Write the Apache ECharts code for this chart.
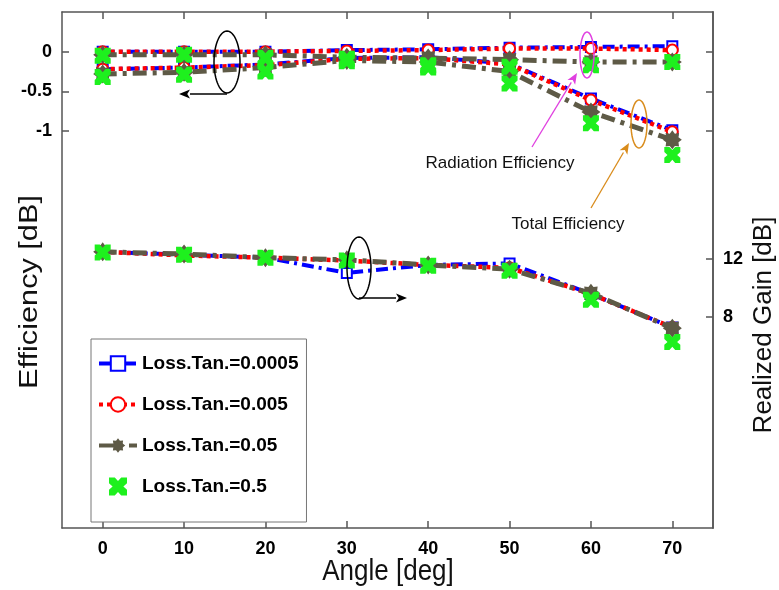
<!DOCTYPE html>
<html>
<head>
<meta charset="utf-8">
<script src="https://cdn.jsdelivr.net/npm/echarts@6/dist/echarts.min.js"></script>
<style>
  html, body { margin: 0; padding: 0; background: #fff; }
  #chart { width: 779px; height: 590px; }
</style>
</head>
<body>
<div id="chart"></div>
<script>
const angles = [0, 10, 20, 30, 40, 50, 60, 70]
const xTicks = [0, 10, 20, 30, 40, 50, 60, 70]
const effTicks = [-1, -0.5, 0]
const gainTicks = [8, 12]
const lossTans = ['Loss.Tan.=0.0005', 'Loss.Tan.=0.005', 'Loss.Tan.=0.05', 'Loss.Tan.=0.5']

// radiation efficiency [dB] (left axis)
const radEff0005 = [0.0, 0.0, 0.0, 0.02, 0.03, 0.05, 0.06, 0.07]
const radEff005 = [0.0, 0.0, 0.0, 0.01, 0.02, 0.04, 0.04, 0.02]
const radEff05 = [-0.04, -0.04, -0.04, -0.07, -0.08, -0.1, -0.13, -0.13]
const radEff5 = [-0.05, -0.04, -0.08, -0.09, -0.17, -0.19, -0.17, -0.13]
// total efficiency [dB] (left axis)
const totEff0005 = [-0.22, -0.2, -0.16, -0.08, -0.07, -0.15, -0.59, -0.99]
const totEff005 = [-0.22, -0.2, -0.17, -0.09, -0.08, -0.16, -0.61, -1.01]
const totEff05 = [-0.28, -0.26, -0.2, -0.11, -0.13, -0.25, -0.76, -1.11]
const totEff5 = [-0.32, -0.29, -0.25, -0.12, -0.2, -0.4, -0.9, -1.3]
// realized gain [dB] (right axis)
const gain0005 = [12.5, 12.3, 12.1, 11.05, 11.6, 11.7, 9.6, 7.3]
const gain005 = [12.5, 12.25, 12.1, 11.9, 11.6, 11.4, 9.6, 7.3]
const gain05 = [12.5, 12.35, 12.1, 11.95, 11.6, 11.3, 9.65, 7.25]
const gain5 = [12.45, 12.3, 12.1, 11.9, 11.55, 11.2, 9.2, 6.3]

const starPath = 'path://M20,10 L16.5,12.7 L17.07,17.07 L12.7,16.5 L10,20 L7.3,16.5 L2.93,17.07 L3.5,12.7 L0,10 L3.5,7.3 L2.93,2.93 L7.3,3.5 L10,0 L12.7,3.5 L17.07,2.93 L16.5,7.3 Z'
const crossPath = 'path://M0,0 L3.2,0 L5,2 L6.8,0 L10,0 L10,3.2 L8,5 L10,6.8 L10,10 L6.8,10 L5,8 L3.2,10 L0,10 L0,6.8 L2,5 L0,3.2 Z'

const styles = [
  { color: '#0000ff', dash: [12, 5, 3, 5], width: 4, symbol: 'emptyRect', size: 10 },
  { color: '#ff0000', dash: [4, 4], width: 4.5, symbol: 'emptyCircle', size: 11 },
  { color: '#5e5a46', dash: [14, 6, 4, 6], width: 5, symbol: starPath, size: 19 },
  { color: '#1ef01e', symbol: crossPath, size: 16 }
]

const pairs = vals => angles.map((a, i) => [a, vals[i]])

const makeSeries = (idx, vals, yAxisIndex) => {
  const s = styles[idx]
  if (!s.dash) {
    return {
      name: lossTans[idx], type: 'scatter', yAxisIndex, data: pairs(vals),
      symbol: s.symbol, symbolSize: s.size, z: 5,
      itemStyle: { color: s.color, opacity: 1 }
    }
  }
  return {
    name: lossTans[idx], type: 'line', yAxisIndex, data: pairs(vals),
    symbol: s.symbol, symbolSize: s.size, showAllSymbol: true, z: 2 + idx,
    lineStyle: { color: s.color, width: s.width, type: s.dash, cap: 'butt' },
    itemStyle: { color: s.color, borderColor: s.color, borderWidth: s.symbol.indexOf('empty') === 0 ? 3 : 0 }
  }
}

const radGroups = [radEff0005, radEff005, radEff05, radEff5]
const totGroups = [totEff0005, totEff005, totEff05, totEff5]
const gainGroups = [gain0005, gain005, gain05, gain5]
const series = []
for (let i = 0; i < 4; i++) {
  series.push(makeSeries(i, radGroups[i], 0))
  series.push(makeSeries(i, totGroups[i], 0))
  series.push(makeSeries(i, gainGroups[i], 1))
}

// annotation helpers (ellipses and arrows)
const ellipse = (cx, cy, rx, ry, color) => {
  const pts = []
  for (let k = 0; k < 60; k++) {
    const t = k / 60 * Math.PI * 2
    pts.push([cx + rx * Math.cos(t), cy + ry * Math.sin(t)])
  }
  return { type: 'polygon', z: 100, shape: { points: pts }, style: { fill: 'none', stroke: color, lineWidth: 1.5 } }
}
const arrow = (x1, y1, x2, y2, color) => {
  const ang = Math.atan2(y2 - y1, x2 - x1)
  const L = 11, W = 4.5
  const bx = x2 - L * Math.cos(ang), by = y2 - L * Math.sin(ang)
  const px = -Math.sin(ang) * W, py = Math.cos(ang) * W
  return [
    { type: 'line', z: 100, shape: { x1, y1, x2: bx, y2: by }, style: { stroke: color, lineWidth: 1.3 } },
    { type: 'polygon', z: 100, shape: { points: [[x2, y2], [bx + px, by + py], [bx + L * 0.25 * Math.cos(ang), by + L * 0.25 * Math.sin(ang)], [bx - px, by - py]] }, style: { fill: color } }
  ]
}
const label = (x, y, text, size, rot, sx, sy) => ({
  type: 'text', z: 100, x, y, rotation: rot || 0, scaleX: sx || 1, scaleY: sy || 1,
  style: { text, font: size + 'px "Liberation Sans", Arial, sans-serif', fill: '#111',
    textAlign: 'center', textVerticalAlign: 'middle', align: 'center', verticalAlign: 'middle' }
})

const axisLineStyle = { color: '#555', width: 1.5 }
const tickFont = { color: '#000', fontSize: 18, fontWeight: 'bold', fontFamily: '"Liberation Sans", Arial, sans-serif' }

const option = {
  animation: false,
  backgroundColor: '#fff',
  grid: { left: 62, right: 66, top: 12, bottom: 62 },
  legend: {
    orient: 'vertical', left: 91, top: 339,
    data: lossTans,
    itemWidth: 38, itemHeight: 18, itemGap: 22,
    padding: [15, 8, 26, 6],
    lineStyle: { width: 4 },
    backgroundColor: '#fff', borderColor: '#777', borderWidth: 1,
    textStyle: { color: '#000', fontSize: 19, fontWeight: 'bold', fontFamily: '"Liberation Sans", Arial, sans-serif' }
  },
  xAxis: [
    {
      type: 'value', min: -5, max: 75, position: 'bottom',
      axisLine: { show: true, onZero: false, lineStyle: axisLineStyle },
      axisTick: { show: true, inside: true, length: 7, customValues: xTicks, lineStyle: axisLineStyle },
      axisLabel: { show: true, customValues: xTicks, margin: 12, ...tickFont },
      splitLine: { show: false }
    },
    {
      type: 'value', min: -5, max: 75, position: 'top',
      axisLine: { show: true, onZero: false, lineStyle: axisLineStyle },
      axisTick: { show: true, inside: true, length: 7, customValues: xTicks, lineStyle: axisLineStyle },
      axisLabel: { show: false },
      splitLine: { show: false }
    }
  ],
  yAxis: [
    {
      type: 'value', min: -6, max: 0.5, position: 'left',
      axisLine: { show: true, onZero: false, lineStyle: axisLineStyle },
      axisTick: { show: true, inside: true, length: 7, customValues: effTicks, lineStyle: axisLineStyle },
      axisLabel: { show: true, customValues: effTicks, margin: 10, ...tickFont },
      splitLine: { show: false }
    },
    {
      type: 'value', min: -6.5, max: 29, position: 'right', alignTicks: false,
      axisLine: { show: true, onZero: false, lineStyle: axisLineStyle },
      axisTick: { show: true, inside: true, length: 7, customValues: gainTicks, lineStyle: axisLineStyle },
      axisLabel: { show: true, customValues: gainTicks, margin: 10, ...tickFont },
      splitLine: { show: false }
    },
    {
      type: 'value', min: -6, max: 0.5, position: 'right', alignTicks: false,
      axisLine: { show: true, onZero: false, lineStyle: axisLineStyle },
      axisTick: { show: true, inside: true, length: 7, customValues: effTicks, lineStyle: axisLineStyle },
      axisLabel: { show: false },
      splitLine: { show: false }
    }
  ],
  series,
  graphic: [
    label(388, 572, 'Angle [deg]', 26, 0, 1, 1.1),
    label(30, 292, 'Efficiency [dB]', 26, Math.PI / 2, 1.18, 1),
    label(764, 325, 'Realized Gain [dB]', 26, Math.PI / 2, 1, 1),
    label(500, 163, 'Radiation Efficiency', 17),
    label(568, 224, 'Total Efficiency', 17),
    ellipse(227, 62, 13, 31, '#000'),
    ...arrow(227, 94, 179, 94, '#000'),
    ellipse(359, 268, 12, 31, '#000'),
    ...arrow(359, 298, 407, 298, '#000'),
    ellipse(587, 55, 7, 23, '#e040e0'),
    ...arrow(532, 147, 577, 73, '#e040e0'),
    ellipse(639, 124, 8, 24, '#d98c1c'),
    ...arrow(591, 208, 629, 143, '#d98c1c')
  ]
}

const chart = echarts.init(document.getElementById('chart'))
chart.setOption(option)
</script>
</body>
</html>
